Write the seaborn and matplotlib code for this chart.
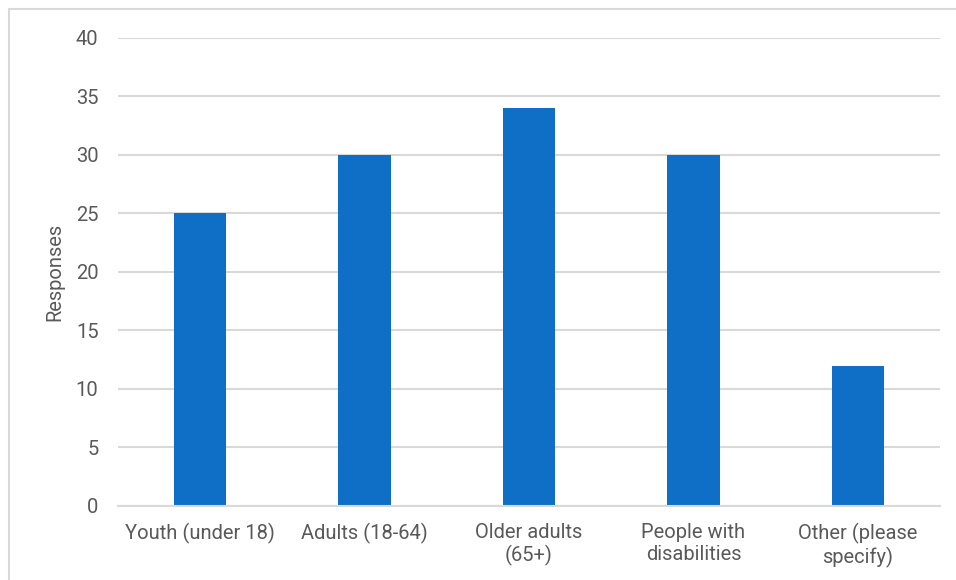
import matplotlib
matplotlib.use("Agg")
import matplotlib.pyplot as plt
import seaborn as sns
import pandas as pd
from matplotlib.lines import Line2D

categories = ["Youth (under 18)", "Adults (18-64)", "Older adults\n(65+)",
              "People with\ndisabilities", "Other (please\nspecify)"]
responses = [25, 30, 34, 30, 12]
y_ticks = [0, 5, 10, 15, 20, 25, 30, 35, 40]

sns.set_theme(style="white")
plt.rcParams["font.family"] = ["Roboto", "DejaVu Sans"]

text_color = "#595959"
grid_color = "#d9d9d9"
bar_color = "#0f6fc6"

df = pd.DataFrame({"category": categories, "responses": responses})

fig = plt.figure(figsize=(9.56, 5.8), dpi=100)
ax = fig.add_axes([0.1234, 0.1276, 0.86, 0.8069])

sns.barplot(data=df, x="category", y="responses", color=bar_color,
            width=0.32, saturation=1, linewidth=0, ax=ax, zorder=3)

ax.set_ylim(0, 40)
ax.set_yticks(y_ticks)
ax.set_xlim(-0.5, len(categories) - 0.5)
ax.yaxis.grid(True, color=grid_color, linewidth=1.5, zorder=0)
ax.set_axisbelow(True)
for side in ["left", "right", "top"]:
    ax.spines[side].set_visible(False)
ax.spines["bottom"].set_color(grid_color)
ax.spines["bottom"].set_linewidth(1.5)
ax.spines["bottom"].set_zorder(4)

ax.tick_params(axis="both", length=0, labelsize=14.5, colors=text_color)
ax.tick_params(axis="y", pad=14)
ax.tick_params(axis="x", pad=12)
ax.set_xlabel("")
ax.set_ylabel("Responses", fontsize=14.5, color=text_color, labelpad=8)

# frame edges of the chart area along the left and top
frame_kw = dict(transform=fig.transFigure, color=grid_color, linewidth=1.5)
fig.add_artist(Line2D([8.5 / 956, 8.5 / 956], [0, 1 - 9 / 580], **frame_kw))
fig.add_artist(Line2D([8.5 / 956, 1], [1 - 9 / 580, 1 - 9 / 580], **frame_kw))

fig.savefig("out.png", dpi=100)
